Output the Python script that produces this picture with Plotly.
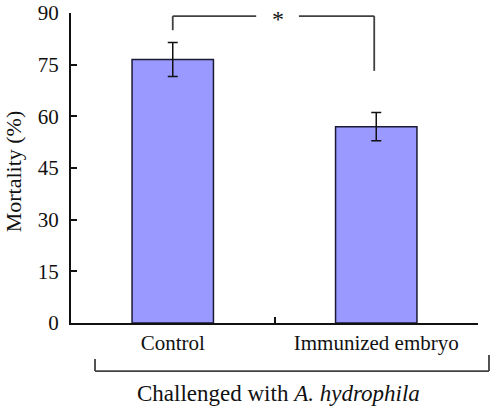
import plotly.graph_objects as go

categories = ["Control", "Immunized embryo"]
mortality = [76.5, 57.0]
errors = [4.9, 4.1]
y_ticks = [0, 15, 30, 45, 60, 75, 90]

# significance bracket (data units)
sig_top = 89.1
sig_left_bottom = 85.0
sig_right_bottom = 73.2
sig_label = "*"

FONT = "Liberation Serif, Times New Roman, serif"

fig = go.Figure()
fig.add_trace(go.Bar(
    x=categories, y=mortality, width=0.4,
    marker=dict(color="#9999FF", line=dict(color="#1a1a33", width=1.5)),
    error_y=dict(type="data", array=errors, visible=True, color="#111111",
                 thickness=1.5, width=5),
    showlegend=False,
))

line_style = dict(color="#404040", width=1.8)
shapes = [
    dict(type="line", xref="x", yref="y", x0=0, x1=0, y0=sig_left_bottom, y1=sig_top, line=line_style),
    dict(type="line", xref="x", yref="y", x0=0, x1=0.41, y0=sig_top, y1=sig_top, line=line_style),
    dict(type="line", xref="x", yref="y", x0=0.62, x1=0.99, y0=sig_top, y1=sig_top, line=line_style),
    dict(type="line", xref="x", yref="y", x0=0.99, x1=0.99, y0=sig_right_bottom, y1=sig_top, line=line_style),
    # bottom group bracket
    dict(type="line", xref="paper", yref="paper", x0=0.059, x1=1.027, y0=-0.155, y1=-0.155, line=line_style),
    dict(type="line", xref="paper", yref="paper", x0=0.059, x1=0.059, y0=-0.116, y1=-0.155, line=line_style),
    dict(type="line", xref="paper", yref="paper", x0=1.027, x1=1.027, y0=-0.103, y1=-0.155, line=line_style),
]

annotations = [
    dict(text=sig_label, xref="x", yref="y", x=0.515, y=sig_top, showarrow=False,
         font=dict(family=FONT, size=24, color="#111111"), yanchor="middle", yshift=-3),
    dict(text="Mortality (%)", xref="paper", yref="paper", x=-0.142, y=0.49, textangle=-90,
         showarrow=False, font=dict(family=FONT, size=22, color="#111111"),
         xanchor="center", yanchor="middle"),
    dict(text="Challenged with <i>A. hydrophila</i>", xref="paper", yref="paper",
         x=0.51, y=-0.226, showarrow=False, xanchor="center", yanchor="middle",
         font=dict(family=FONT, size=23, color="#111111")),
]

fig.update_layout(
    width=498, height=410,
    margin=dict(l=71, r=20, t=13, b=87, autoexpand=False),
    paper_bgcolor="white", plot_bgcolor="white",
    shapes=shapes, annotations=annotations,
    bargap=0.6,
)
fig.update_xaxes(
    range=[-0.5, 1.5], showline=True, linecolor="#111111", linewidth=2,
    ticks="inside", tickson="boundaries", ticklen=6, tickwidth=1.5, tickcolor="#111111",
    tickfont=dict(family=FONT, size=21, color="#111111"), showgrid=False,
    automargin=False,
)
fig.update_yaxes(
    range=[0, 90], tickvals=y_ticks, showline=True, linecolor="#111111", linewidth=2,
    ticks="inside", ticklen=6, tickwidth=1.5, tickcolor="#111111",
    tickfont=dict(family=FONT, size=21, color="#111111"), showgrid=False, zeroline=False,
    ticklabelstandoff=6, automargin=False,
)

fig.write_html("out.html", config={"displayModeBar": False},
               post_script="document.body.style.margin='0';")
